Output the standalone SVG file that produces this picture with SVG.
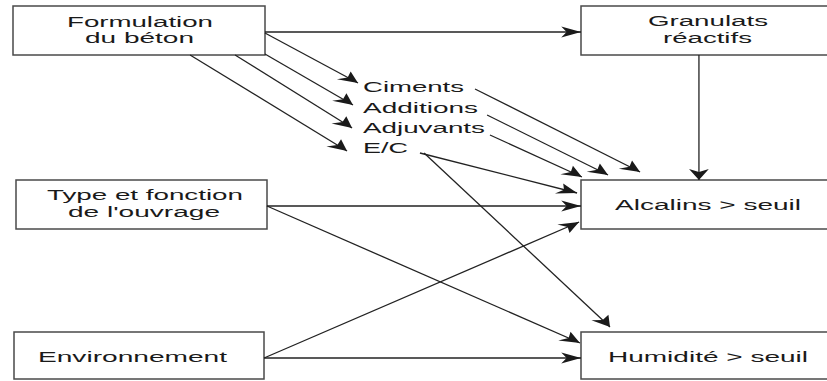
<svg xmlns="http://www.w3.org/2000/svg" width="827" height="381" viewBox="0 0 827 381">
<style>
.box{fill:#fff;stroke:#4a4a4a;stroke-width:1.5}
.t{font-family:"Liberation Sans",Arial,sans-serif;font-size:15.5px;fill:#1a1a1a}
.c line{stroke:#222;stroke-width:1.3;vector-effect:non-scaling-stroke;marker-end:url(#ah)}
</style>
<defs>
<marker id="ah" markerUnits="userSpaceOnUse" orient="auto" refX="0" refY="0" markerWidth="30" markerHeight="30" overflow="visible">
<path d="M0,0 L-11,-5.5 L-8,0 L-11,5.5 Z" fill="#1a1a1a"/>
</marker>
</defs>
<rect width="827" height="381" fill="#fff"/>
<g id="formulation">
<rect class="box" x="13" y="6" width="252" height="49"/>
<text class="t" transform="scale(1.8,1)" x="37.22" y="27" textLength="81.1" lengthAdjust="spacingAndGlyphs">Formulation</text>
<text class="t" transform="scale(1.8,1)" x="47.22" y="43" textLength="60.56" lengthAdjust="spacingAndGlyphs">du béton</text>
</g>
<g id="granulats">
<rect class="box" x="581" y="6" width="260" height="49"/>
<text class="t" transform="scale(1.8,1)" x="360" y="26" textLength="66.67" lengthAdjust="spacingAndGlyphs">Granulats</text>
<text class="t" transform="scale(1.8,1)" x="368.33" y="43" textLength="49.44" lengthAdjust="spacingAndGlyphs">réactifs</text>
</g>
<g id="type">
<rect class="box" x="16" y="180" width="251" height="49"/>
<text class="t" transform="scale(1.8,1)" x="26.11" y="200" textLength="108.89" lengthAdjust="spacingAndGlyphs">Type et fonction</text>
<text class="t" transform="scale(1.8,1)" x="37.78" y="217" textLength="84.44" lengthAdjust="spacingAndGlyphs">de l'ouvrage</text>
</g>
<g id="alcalins">
<rect class="box" x="581" y="180" width="260" height="49"/>
<text class="t" transform="scale(1.8,1)" x="341.67" y="210" textLength="103.33" lengthAdjust="spacingAndGlyphs">Alcalins &gt; seuil</text>
</g>
<g id="environnement">
<rect class="box" x="14" y="332" width="250" height="47"/>
<text class="t" transform="scale(1.8,1)" x="21.11" y="362" textLength="105" lengthAdjust="spacingAndGlyphs">Environnement</text>
</g>
<g id="humidite">
<rect class="box" x="581" y="332" width="260" height="47"/>
<text class="t" transform="scale(1.8,1)" x="337.78" y="362" textLength="111.11" lengthAdjust="spacingAndGlyphs">Humidité &gt; seuil</text>
</g>
<g id="ciments"><text class="t" transform="scale(1.8,1)" x="201.67" y="92" textLength="56.11" lengthAdjust="spacingAndGlyphs">Ciments</text></g>
<g id="additions"><text class="t" transform="scale(1.8,1)" x="201.67" y="113" textLength="63.89" lengthAdjust="spacingAndGlyphs">Additions</text></g>
<g id="adjuvants"><text class="t" transform="scale(1.8,1)" x="201.67" y="133" textLength="67.78" lengthAdjust="spacingAndGlyphs">Adjuvants</text></g>
<g id="ec"><text class="t" transform="scale(1.8,1)" x="201.67" y="153" textLength="25" lengthAdjust="spacingAndGlyphs">E/C</text></g>
<g id="connectors" class="c" transform="scale(1.8,1)">
<line x1="147.2" y1="32" x2="322.8" y2="32"/>
<line x1="147.2" y1="33" x2="198.9" y2="83"/>
<line x1="147.2" y1="54" x2="196.1" y2="105"/>
<line x1="130.6" y1="55" x2="195.6" y2="128"/>
<line x1="105.6" y1="55" x2="192.8" y2="151"/>
<line x1="263.9" y1="89" x2="355.6" y2="172"/>
<line x1="270.6" y1="115" x2="337.8" y2="175"/>
<line x1="272.2" y1="135" x2="323.3" y2="177"/>
<line x1="233.3" y1="153" x2="320.6" y2="193"/>
<line x1="235.6" y1="153" x2="338.9" y2="327"/>
<line x1="388.3" y1="55" x2="388.3" y2="180"/>
<line x1="148.3" y1="206" x2="322.8" y2="206"/>
<line x1="148.3" y1="206" x2="322.2" y2="343"/>
<line x1="146.7" y1="358" x2="321.7" y2="222"/>
<line x1="146.7" y1="358" x2="322.8" y2="358"/>
</g>
</svg>
